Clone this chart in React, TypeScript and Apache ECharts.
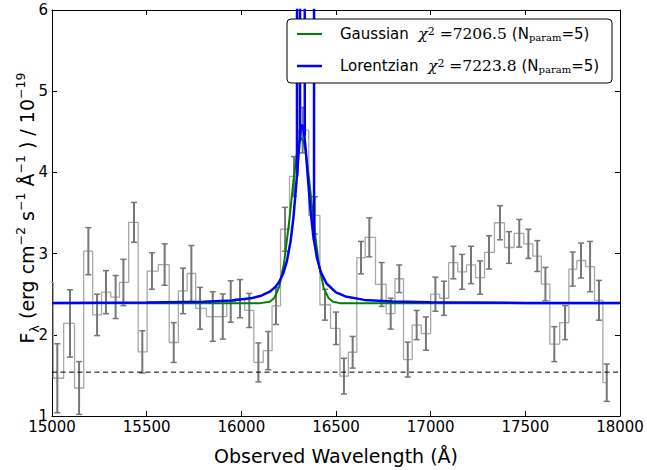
import React, { useEffect, useRef } from "react";
import * as echarts from "echarts";

// Binned spectrum (observed wavelength in Å, flux in 1e-19 erg/cm2/s/Å)
const wavelengths = [14986, 15028, 15095, 15143, 15192, 15238, 15285, 15336, 15377, 15433, 15477, 15528, 15595, 15643, 15692, 15736, 15782, 15849, 15902, 15944, 15993, 16042, 16090, 16142, 16183, 16231, 16278, 16324, 16388, 16442, 16500, 16542, 16588, 16632, 16676, 16741, 16789, 16834, 16879, 16926, 16975, 17025, 17070, 17120, 17166, 17213, 17261, 17308, 17366, 17414, 17468, 17516, 17563, 17606, 17653, 17710, 17750, 17794, 17842, 17889, 17930];
const fluxValues = [2.646, 1.465, 2.14, 1.345, 3.03, 2.245, 2.525, 2.465, 2.645, 3.385, 1.79, 2.785, 2.865, 1.905, 2.54, 2.755, 2.326, 2.225, 2.225, 2.41, 2.445, 2.3, 1.66, 1.805, 2.356, 3.3, 3.95, 4.52, 3.47, 2.37, 2.08, 1.49, 1.785, 2.95, 3.2, 2.62, 2.26, 2.69, 1.695, 2.12, 2.015, 2.5, 2.45, 2.89, 2.775, 2.86, 2.705, 3.015, 3.38, 3.075, 3.25, 3.12, 2.97, 2.625, 1.885, 2.15, 2.81, 2.915, 2.84, 2.425, 1.41];
const fluxErrors = [0.3, 0.425, 0.415, 0.325, 0.29, 0.255, 0.265, 0.265, 0.285, 0.245, 0.26, 0.225, 0.255, 0.245, 0.28, 0.345, 0.258, 0.305, 0.278, 0.255, 0.235, 0.21, 0.24, 0.235, 0.228, 0.27, 0.245, 0.28, 0.23, 0.19, 0.2, 0.22, 0.195, 0.2, 0.24, 0.27, 0.19, 0.17, 0.215, 0.18, 0.205, 0.21, 0.21, 0.2, 0.215, 0.23, 0.205, 0.205, 0.21, 0.195, 0.17, 0.18, 0.19, 0.205, 0.215, 0.21, 0.21, 0.215, 0.31, 0.245, 0.23];

// Gaussian fit curve
const gaussW = [15000, 16100, 16150, 16175, 16200, 16225, 16250, 16275, 16295, 16306, 16317, 16328, 16340, 16360, 16385, 16410, 16435, 16460, 16485, 16520, 18000];
const gaussV = [2.39, 2.39, 2.408, 2.457, 2.59, 2.875, 3.34, 3.89, 4.26, 4.38, 4.42, 4.38, 4.25, 3.875, 3.32, 2.86, 2.58, 2.454, 2.407, 2.39, 2.39];

// Lorentzian fit curve
const lorW = [15000, 15500, 15800, 15950, 16050, 16100, 16150, 16180, 16200, 16220, 16240, 16260, 16275, 16290, 16305, 16314, 16322, 16330, 16340, 16350, 16365, 16380, 16400, 16420, 16450, 16500, 16550, 16650, 16800, 17000, 17500, 18000];
const lorV = [2.3925, 2.397, 2.406, 2.422, 2.449, 2.477, 2.531, 2.59, 2.653, 2.748, 2.9, 3.149, 3.44, 3.85, 4.315, 4.52, 4.59, 4.52, 4.287, 3.976, 3.54, 3.217, 2.94, 2.773, 2.632, 2.522, 2.4725, 2.43, 2.409, 2.4, 2.393, 2.392];

// Off-scale spikes of the Lorentzian model
const spikeAW = [16294, 16294, 16310, 16310];
const spikeAV = [3.98, 6.6, 6.6, 4.41];
const spikeBW = [16335, 16335, 16384, 16384];
const spikeBV = [4.45, 6.6, 6.6, 3.16];

// Dashed reference level
const dashLevel = 1.54;
const dashW = [15000, 18000];

const xTicks = { min: 15000, max: 18000, interval: 500 };
const yTicks = { min: 1, max: 6, interval: 1 };

const gaussLabel = { name: "Gaussian", chi2: "7206.5", nparam: "5" };
const lorLabel = { name: "Lorentzian", chi2: "7223.8", nparam: "5" };

const zip = (a: number[], b: number[]) => a.map((x, i) => [x, b[i]]);

export default function App() {
  const ref = useRef<HTMLDivElement>(null);
  useEffect(() => {
    if (!ref.current) return;
    const chart = echarts.init(ref.current, undefined, { renderer: "svg" });
    const font = "DejaVu Sans";
    const axisCommon = {
      type: "value",
      axisLine: { show: true, onZero: false, lineStyle: { color: "#000", width: 1 } },
      axisTick: { show: true, inside: true, length: 5, lineStyle: { color: "#000", width: 1 } },
      splitLine: { show: false },
    };
    const legendRich = {
      s: { fontSize: 15, fontFamily: font, color: "#000" },
      m: { fontSize: 15.5, fontFamily: "DejaVu Serif", fontStyle: "italic", color: "#000" },
      n: { fontSize: 15.5, fontFamily: "DejaVu Serif", color: "#000" },
      sup: { fontSize: 11, fontFamily: "DejaVu Serif", color: "#000", verticalAlign: "top", lineHeight: 10 },
      sub: { fontSize: 10, fontFamily: "DejaVu Serif", color: "#000", verticalAlign: "bottom", lineHeight: 10 },
    };
    const legendText = (l: any) =>
      `{s|${l.name}  }{m|χ}{sup|2}{n| =${l.chi2} }{s|(N}{sub|param}{s|=${l.nparam})}`;

    chart.setOption({
      animation: false,
      grid: { left: 52, top: 10, width: 568, height: 411, containLabel: false },
      xAxis: [
        {
          ...axisCommon,
          position: "bottom",
          min: xTicks.min,
          max: xTicks.max,
          interval: xTicks.interval,
          axisLabel: {
            color: "#000",
            fontSize: 15,
            fontFamily: font,
            margin: 4,
            lineHeight: 14,
            formatter: (v: number) => String(v),
          },
          name: "Observed Wavelength (Å)",
          nameLocation: "middle",
          nameGap: 30,
          nameTextStyle: { color: "#000", fontSize: 19, fontFamily: font },
        },
        {
          ...axisCommon,
          position: "top",
          min: xTicks.min,
          max: xTicks.max,
          interval: xTicks.interval,
          axisLabel: { show: false },
        },
      ],
      yAxis: [
        {
          ...axisCommon,
          position: "left",
          min: yTicks.min,
          max: yTicks.max,
          interval: yTicks.interval,
          axisLabel: { color: "#000", fontSize: 15, fontFamily: font, margin: 4, lineHeight: 12 },
        },
        {
          ...axisCommon,
          position: "right",
          min: yTicks.min,
          max: yTicks.max,
          interval: yTicks.interval,
          axisLabel: { show: false },
        },
      ],
      series: [
        {
          type: "line",
          step: "middle",
          data: zip(wavelengths, fluxValues),
          symbol: "none",
          lineStyle: { color: "#a8a8a8", width: 1.3 },
          z: 2,
          silent: true,
        },
        {
          type: "custom",
          clip: true,
          z: 3,
          silent: true,
          data: wavelengths.map((w, i) => [w, fluxValues[i] - fluxErrors[i], fluxValues[i] + fluxErrors[i]]),
          encode: { x: 0, y: [1, 2] },
          renderItem: (params: any, api: any) => {
            const w = api.value(0);
            const lo = api.coord([w, api.value(1)]);
            const hi = api.coord([w, api.value(2)]);
            const c = 3;
            const st = { stroke: "#777777", lineWidth: 2 };
            const stc = { stroke: "#777777", lineWidth: 1.5 };
            return {
              type: "group",
              children: [
                { type: "line", shape: { x1: lo[0], y1: lo[1], x2: hi[0], y2: hi[1] }, style: st },
                { type: "line", shape: { x1: lo[0] - c, y1: lo[1], x2: lo[0] + c, y2: lo[1] }, style: stc },
                { type: "line", shape: { x1: hi[0] - c, y1: hi[1], x2: hi[0] + c, y2: hi[1] }, style: stc },
              ],
            };
          },
        },
        {
          type: "line",
          data: dashW.map((w) => [w, dashLevel]),
          symbol: "none",
          lineStyle: { color: "#000", width: 1, type: [5, 3.5] },
          z: 3,
          silent: true,
        },
        {
          type: "line",
          data: zip(gaussW, gaussV),
          symbol: "none",
          lineStyle: { color: "#008000", width: 2 },
          z: 4,
          silent: true,
        },
        {
          type: "line",
          data: zip(lorW, lorV),
          symbol: "none",
          lineStyle: { color: "#0000ff", width: 2.5 },
          z: 5,
          silent: true,
        },
        {
          type: "line",
          data: zip(spikeAW, spikeAV),
          symbol: "none",
          lineStyle: { color: "#0000ff", width: 2.5 },
          z: 5,
          silent: true,
        },
        {
          type: "line",
          data: zip(spikeBW, spikeBV),
          symbol: "none",
          lineStyle: { color: "#0000ff", width: 2.5 },
          z: 5,
          silent: true,
        },
      ],
      graphic: [
        {
          type: "text",
          x: 27,
          y: 208,
          rotation: Math.PI / 2,
          z: 50,
          style: {
            text: "{m|F}{sub|λ}{m| (erg cm}{sup|−2}{m| s}{sup|−1}{m| Å}{sup|−1}{m| ) / 10}{sup|−19}",
            rich: {
              m: { fontSize: 19, fontFamily: font, color: "#000", lineHeight: 27 },
              sup: { fontSize: 12.5, fontFamily: font, color: "#000", verticalAlign: "top", lineHeight: 13 },
              sub: { fontSize: 12.5, fontFamily: font, color: "#000", verticalAlign: "bottom", lineHeight: 13 },
            },
            align: "center",
            textAlign: "center",
            verticalAlign: "middle",
            textVerticalAlign: "middle",
          },
        },
        {
          type: "group",
          z: 100,
          children: [
            {
              type: "rect",
              z: 100,
              shape: { x: 287, y: 19, width: 325, height: 64, r: 4 },
              style: { fill: "#fff", stroke: "#000", lineWidth: 1 },
            },
            {
              type: "line",
              z: 101,
              shape: { x1: 297, y1: 34, x2: 322, y2: 34 },
              style: { stroke: "#008000", lineWidth: 2 },
            },
            {
              type: "line",
              z: 101,
              shape: { x1: 297, y1: 66, x2: 322, y2: 66 },
              style: { stroke: "#0000ff", lineWidth: 2.5 },
            },
            {
              type: "text",
              z: 101,
              x: 340,
              y: 34,
              style: {
                text: legendText(gaussLabel),
                rich: legendRich,
                align: "left",
                textAlign: "left",
                verticalAlign: "middle",
                textVerticalAlign: "middle",
              },
            },
            {
              type: "text",
              z: 101,
              x: 340,
              y: 66,
              style: {
                text: legendText(lorLabel),
                rich: legendRich,
                align: "left",
                textAlign: "left",
                verticalAlign: "middle",
                textVerticalAlign: "middle",
              },
            },
          ],
        },
      ],
    });
    return () => chart.dispose();
  }, []);
  return (
    <div
      ref={ref}
      style={{ position: "fixed", left: 0, top: 0, width: 647, height: 470, background: "#fff" }}
    />
  );
}
